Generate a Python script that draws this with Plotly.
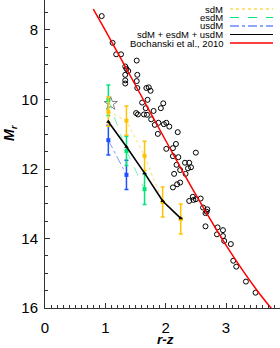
import plotly.graph_objects as go

# ---- data ----
field_rz = [0.94, 1.12, 1.18, 1.26, 1.33, 1.35, 1.38, 1.33, 1.33, 1.33, 1.52, 1.53, 1.52, 1.53,
            1.68, 1.72, 1.75, 1.70, 1.61, 1.96, 1.92, 1.67, 1.51, 1.54, 1.64, 1.69, 1.80, 1.76,
            1.88, 1.82, 1.97, 2.01, 2.06, 1.87, 2.20, 2.17, 2.12, 2.01, 2.12, 2.21, 2.50, 2.18,
            2.32, 2.39, 2.37, 2.42, 2.24, 2.33, 2.14, 2.12, 2.19, 2.24, 2.45, 2.39, 2.46, 2.50,
            2.58, 2.62, 2.69, 2.66, 2.68, 2.66, 2.86, 2.95, 2.85, 2.95, 2.97, 3.08, 3.12, 3.17,
            3.33, 3.49]
field_mr = [7.60, 8.37, 8.70, 8.70, 9.05, 9.12, 9.18, 9.29, 9.45, 9.54, 8.88, 9.29, 9.47, 9.67,
            9.67, 9.65, 9.75, 10.01, 10.09, 10.11, 10.25, 10.25, 10.39, 10.43, 10.43, 10.44, 10.33, 10.57,
            10.67, 10.73, 10.71, 10.67, 10.78, 10.99, 10.94, 11.28, 11.40, 11.42, 11.63, 11.66, 11.53, 11.88,
            11.82, 11.82, 11.98, 11.95, 12.03, 12.14, 12.14, 12.53, 12.44, 12.39, 12.80, 12.92, 12.89, 12.87,
            12.85, 13.11, 13.16, 13.27, 13.23, 13.65, 13.68, 13.76, 13.88, 13.93, 14.07, 14.16, 14.64, 14.81,
            15.24, 15.56]

star_rz = [1.09]
star_mr = [10.12]

sdm_rz = [1.05, 1.35, 1.65, 1.95, 2.25]
sdm_mr = [10.35, 10.61, 11.62, 12.95, 13.44]
sdm_err = [0.42, 0.42, 0.42, 0.43, 0.43]

esdm_rz = [1.05, 1.35, 1.65]
esdm_mr = [10.02, 11.48, 12.58]
esdm_err = [0.44, 0.42, 0.44]

usdm_rz = [1.05, 1.35]
usdm_mr = [11.17, 12.17]
usdm_err = [0.43, 0.42]

all_rz = [1.05, 1.35, 1.65, 1.95, 2.25]
all_mr = [10.64, 11.36, 12.12, 12.92, 13.42]

boch_rz = [0.8, 1.0, 1.5, 2.0, 2.5, 3.0, 3.5, 3.9]
boch_mr = [7.40, 8.01, 9.59, 11.18, 12.74, 14.19, 15.46, 16.32]

legend_labels = ["sdM", "esdM", "usdM", "sdM + esdM + usdM", "Bochanski et al., 2010"]

YEL = "rgb(255,196,0)"
GRN = "rgb(0,230,120)"
BLU = "rgb(30,80,255)"

fig = go.Figure()

fig.add_trace(go.Scatter(x=field_rz, y=field_mr, mode="markers",
                         marker=dict(symbol="circle-open", size=5, color="black",
                                     line=dict(width=1, color="black"))))
fig.add_trace(go.Scatter(x=star_rz, y=star_mr, mode="markers",
                         marker=dict(symbol="star-open", size=10, color="gray",
                                     line=dict(width=1, color="gray"))))
fig.add_trace(go.Scatter(x=boch_rz, y=boch_mr, mode="lines", line_shape="spline",
                         line=dict(color="red", width=1.5)))

def series(x, y, e, col, dash):
    fig.add_trace(go.Scatter(x=x, y=y, mode="lines",
                             line=dict(color=col, width=1, dash=dash),
                             opacity=0.55))
    fig.add_trace(go.Scatter(x=x, y=y, mode="markers",
                             marker=dict(symbol="square", size=4, color=col),
                             error_y=dict(type="data", array=e, color=col,
                                          thickness=1.5, width=2)))

series(usdm_rz, usdm_mr, usdm_err, BLU, "dashdot")
series(esdm_rz, esdm_mr, esdm_err, GRN, "dash")
series(sdm_rz, sdm_mr, sdm_err, YEL, "dot")

fig.add_trace(go.Scatter(x=all_rz, y=all_mr, mode="lines+markers",
                         line=dict(color="black", width=1.6),
                         marker=dict(symbol="triangle-up", size=4, color="black")))

# legend drawn in paper coordinates (text right aligned, sample on the right)
PW = 235.0
PH = 308.0
rows_py = [9, 17.5, 26, 34.5, 43]
styles = [(YEL, "dot", 1), (GRN, "dash", 1), (BLU, "dashdot", 1), ("black", "solid", 1), ("red", "solid", 1.3)]
for lab, py, (c, d, w) in zip(legend_labels, rows_py, styles):
    yp = 1 - py / PH
    fig.add_annotation(x=(224 - 45) / PW, y=yp, xref="paper", yref="paper",
                       text=lab, showarrow=False, xanchor="right", yanchor="middle",
                       borderpad=0,
                       font=dict(size=9.5, color="black", family="Liberation Sans"))
    fig.add_shape(type="line", xref="paper", yref="paper",
                  x0=(230 - 45) / PW, x1=(273 - 45) / PW, y0=yp, y1=yp,
                  line=dict(color=c, dash=d, width=w))

fig.add_annotation(x=2.0, y=-(339.5 - 308) / PH, xref="x", yref="paper", text="<b><i>r-z</i></b>",
                   showarrow=False, xanchor="center", yanchor="middle", borderpad=0,
                   font=dict(size=13.5, color="black", family="Liberation Sans"))
fig.add_annotation(x=-(45 - 10) / PW, y=1 - 133 / PH, xref="paper", yref="paper",
                   text="<b><i>M<sub>r</sub></i></b>", textangle=-90,
                   showarrow=False, xanchor="center", yanchor="middle", borderpad=0,
                   font=dict(size=14, color="black", family="Liberation Sans"))

fig.update_layout(
    width=280, height=348,
    margin=dict(l=45, r=0, t=0, b=40),
    paper_bgcolor="white", plot_bgcolor="white",
    showlegend=False,
    font=dict(family="Liberation Sans", size=15, color="black"),
)
fig.update_xaxes(range=[0, 3.895], showgrid=False, zeroline=False,
                 showline=True, linecolor="#333", linewidth=1,
                 ticks="inside", ticklen=5, tickcolor="#333", dtick=1, tick0=0,
                 ticklabelstandoff=6,
                 minor=dict(ticks="inside", ticklen=3, dtick=0.1, tickcolor="#333", showgrid=False))
fig.update_yaxes(range=[16, 7.137], showgrid=False, zeroline=False,
                 showline=True, linecolor="#333", linewidth=1,
                 ticks="inside", ticklen=5, tickcolor="#333", dtick=2, tick0=0,
                 ticklabelstandoff=3,
                 minor=dict(ticks="inside", ticklen=3, dtick=0.5, tickcolor="#333", showgrid=False))

fig.write_html("out.html", config={"displayModeBar": False},
               post_script="document.body.style.margin='0';document.body.style.padding='0';")
